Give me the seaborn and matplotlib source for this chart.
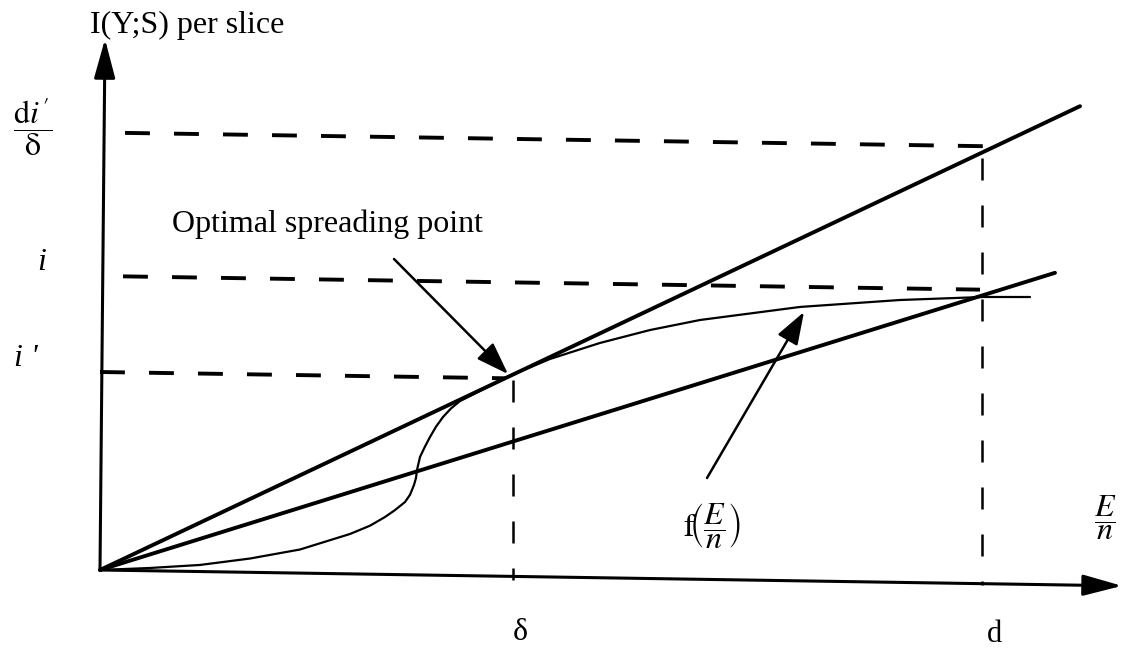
import matplotlib
matplotlib.use("Agg")
import matplotlib.pyplot as plt
import numpy as np
import seaborn as sns
from matplotlib.transforms import Affine2D

# ---- schematic values (drawing units, origin at the axes corner) ----
curve_x = [0, 50, 100, 150, 200, 250, 270, 285, 295, 305, 310, 314, 316,
           317, 320, 325, 330, 336, 343, 351, 360, 380, 400, 413, 450, 500,
           550, 600, 700, 800, 883, 930]
curve_y = [0, 2.8, 6.6, 13.8, 23.6, 39.9, 48.5, 57.4, 64.5, 72.7, 80.0,
           89.9, 97.0, 104.9, 118.0, 128.5, 138.1, 148.5, 158.3, 167.0,
           174.5, 185.0, 195.3, 202.0, 218.0, 234.8, 248.5, 259.3, 273.9,
           282.4, 286.7, 287.4]

upper_x = [0, 980]
upper_y = [0, 479]
lower_x = [0, 955]
lower_y = [0, 312]

delta_x = 413
d_x = 882
level_di = 437.5
level_i = 294
level_ip = 198

axis_x_end = 1022
axis_y_end = 531

sns.set_theme(style="white")
plt.rcParams["font.family"] = ["Liberation Serif", "DejaVu Serif"]
plt.rcParams["mathtext.fontset"] = "stix"

fig = plt.figure(figsize=(11.24, 6.53), dpi=100)
ax = fig.add_axes([0, 0, 1, 1])
ax.set_xlim(-100, 1024)
ax.set_ylim(-83, 570)
ax.axis("off")

# the printed page is slightly skewed: horizontals drift downward
skew = -0.0155
page = Affine2D(np.array([[1, 0, 0], [skew, 1, 0], [0, 0, 1]])) + ax.transData

k = "black"


def seg(xs, ys, lw, ls="-"):
    sns.lineplot(x=xs, y=ys, ax=ax, color=k, lw=lw, linestyle=ls,
                 sort=False, estimator=None, transform=page,
                 solid_capstyle="round", solid_joinstyle="round")


# straight lines through the origin
seg(upper_x, upper_y, 2.8)
seg(lower_x, lower_y, 2.8)

# f(E/n)
seg(curve_x, curve_y, 1.6)

# dashed guides
hdash = (0, (6.4, 6.2))
vdash = (0, (8.8, 10))
seg([25, d_x + 1], [level_di, level_di], 2.8, hdash)
seg([23, d_x - 2], [level_i, level_i], 2.8, hdash)
seg([0, delta_x - 8], [level_ip, level_ip], 2.8, hdash)
seg([delta_x, delta_x], [196, -4], 1.8, vdash)
seg([d_x, d_x], [426, -1], 1.8, vdash)

# axes with arrow heads
axis_arrow = dict(arrowstyle="-|>,head_length=2.4,head_width=0.65", lw=2.2,
                  color=k, shrinkA=0, shrinkB=0, mutation_scale=10)
ax.annotate("", xy=(axis_x_end, 0), xytext=(0, 0), xycoords=page,
            textcoords=page, arrowprops=axis_arrow)
ax.annotate("", xy=(5, axis_y_end), xytext=(0, 0), xycoords=page,
            textcoords=page, arrowprops=axis_arrow)

# pointer arrows
pointer = dict(arrowstyle="-|>,head_length=2.0,head_width=0.7", lw=1.8,
               color=k, shrinkA=0, shrinkB=0, mutation_scale=10)
ax.annotate("", xy=(408, 196), xytext=(294, 311), arrowprops=pointer)
ax.annotate("", xy=(704, 258), xytext=(607, 92), arrowprops=pointer)

# labels
tsize = 23
msize = 23
ax.text(-10, 537, "I(Y;S) per slice", fontsize=tsize, ha="left",
        va="baseline", color=k)
ax.text(72, 338, "Optimal spreading point", fontsize=tsize, ha="left",
        va="baseline", color=k)
ax.text(-67, 443, r"$\dfrac{\mathrm{d}i\,^{\prime}}{\mathrm{\delta}}$",
        fontsize=msize, ha="center", va="center", color=k)
ax.text(-58, 307, "i", fontsize=tsize, style="italic", ha="center",
        va="center", color=k)
ax.text(-74, 212, "i '", fontsize=tsize, style="italic", ha="center",
        va="center", color=k)
ax.text(420, -63, "δ", fontsize=tsize, ha="center", va="center", color=k)
ax.text(895, -65, "d", fontsize=22, ha="center", va="center", color=k)
ax.text(1005, 52, r"$\dfrac{E}{n}$", fontsize=msize, ha="center",
        va="center", color=k)
ax.text(612, 44, r"$\mathrm{f}\!\left(\dfrac{E}{n}\right)$", fontsize=msize,
        ha="center", va="center", color=k)

fig.savefig("out.png", dpi=100, facecolor="white")
